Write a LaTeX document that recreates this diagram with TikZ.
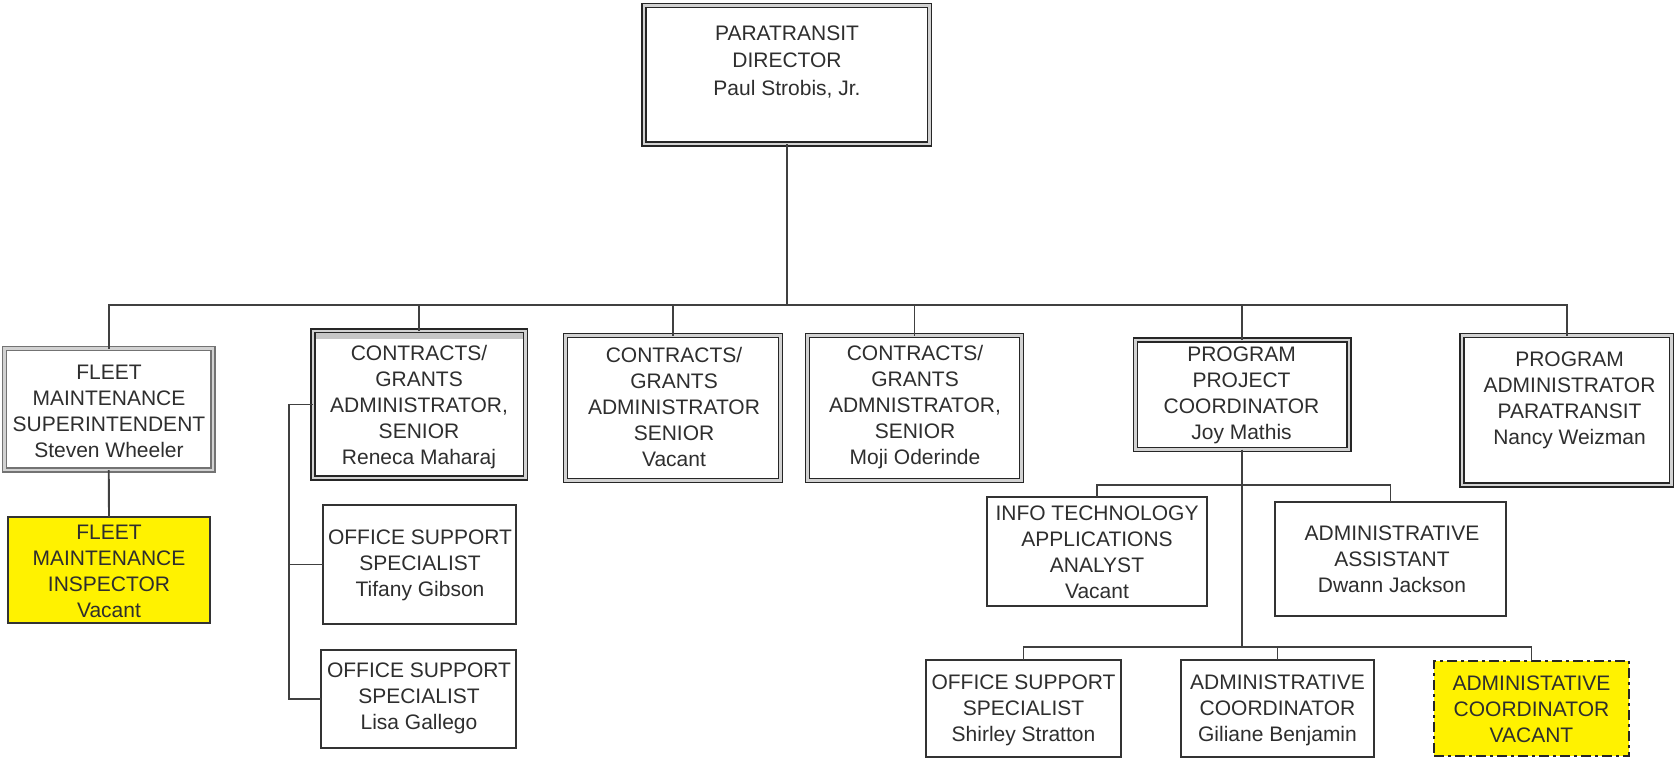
\documentclass[tikz,border=0pt]{standalone}
\usepackage{fontspec}
\setmainfont{Liberation Sans}
\usetikzlibrary{fit}
\begin{document}
\begin{tikzpicture}[x=1pt,y=-1pt,
  frame/.style={inner sep=0pt, outer sep=0pt},
  dbl/.style={frame, fill=white, draw=black!85, line width=1.4pt,
              double=gray!35, double distance=2.6pt},
  dblsoft/.style={dbl, draw=black!55},
  single/.style={frame, fill=white, draw=black!80, line width=1.9pt},
  yel/.style={frame, fill=yellow, draw=black!80, line width=1.9pt},
  yeldash/.style={frame, fill=yellow, draw=black!85, line width=2.4pt,
                  dash pattern=on 10pt off 4pt on 3pt off 4pt},
  lbl/.style={inner sep=0pt, align=center, text=black!82,
              font=\fontsize{21}{26}\selectfont},
  wire/.style={draw=black!75, line width=1.9pt}
]
\useasboundingbox (0,0) rectangle (1676,758);

% ---- boxes (frames) ----
\node[dbl, fit={(644,5.5) (929.5,144)}] (dir) {};
\node[dblsoft, fit={(4.5,348.5) (213,470)}] (fs) {};
\node[yel, fit={(8,517) (210,623)}] (fi) {};
\node[dbl, fit={(313,331) (525.5,478)}] (cr) {};
\fill[gray!45] (315.5,333) rectangle (523,338.5); % heavier top rule of the senior box
\node[dbl, fit={(565.5,335.5) (780.5,480.5)}] (cv) {};
\node[dbl, fit={(807.5,335.5) (1021.5,480.5)}] (cm) {};
\node[dbl, fit={(1135.5,340) (1349,449.5)}] (pp) {};
\node[dbl, fit={(1462,335.5) (1671.5,485)}] (pa) {};
\node[single, fit={(323,505) (516,624)}] (tif) {};
\node[single, fit={(321,650) (516,748)}] (lisa) {};
\node[single, fit={(987,497) (1207,606)}] (it) {};
\node[single, fit={(1275,502) (1506,616)}] (aa) {};
\node[single, fit={(926,660) (1121,757)}] (ss) {};
\node[single, fit={(1181,660) (1374,757)}] (ac) {};
\node[yeldash, fit={(1434,661) (1629,756)}] (yv) {};

% ---- labels ----
\node[lbl, font=\fontsize{21}{27.5}\selectfont] (dirT) at (787,62) {PARATRANSIT\\DIRECTOR\\Paul Strobis, Jr.};
\node[lbl] (fsT) at (109,411) {FLEET\\MAINTENANCE\\SUPERINTENDENT\\Steven Wheeler};
\node[lbl] (fiT) at (109,571) {FLEET\\MAINTENANCE\\INSPECTOR\\Vacant};
\node[lbl] (crT) at (419,407) {CONTRACTS/\\GRANTS\\ADMINISTRATOR,\\SENIOR\\Reneca Maharaj};
\node[lbl] (cvT) at (674,407) {CONTRACTS/\\GRANTS\\ADMINISTRATOR\\SENIOR\\Vacant};
\node[lbl] (cmT) at (915,407) {CONTRACTS/\\GRANTS\\ADMNISTRATOR,\\SENIOR\\Moji Oderinde};
\node[lbl] (ppT) at (1241.5,395) {PROGRAM\\PROJECT\\COORDINATOR\\Joy Mathis};
\node[lbl] (paT) at (1569.5,400) {PROGRAM\\ADMINISTRATOR\\PARATRANSIT\\Nancy Weizman};
\node[lbl] (tifT) at (420,565) {OFFICE SUPPORT\\SPECIALIST\\Tifany Gibson};
\node[lbl] (lisaT) at (419,698) {OFFICE SUPPORT\\SPECIALIST\\Lisa Gallego};
\node[lbl] (itT) at (1097,552) {INFO TECHNOLOGY\\APPLICATIONS\\ANALYST\\Vacant};
\node[lbl] (aaT) at (1392,559) {ADMINISTRATIVE\\ASSISTANT\\Dwann Jackson};
\node[lbl] (ssT) at (1023.5,710) {OFFICE SUPPORT\\SPECIALIST\\Shirley Stratton};
\node[lbl] (acT) at (1277.5,710) {ADMINISTRATIVE\\COORDINATOR\\Giliane Benjamin};
\node[lbl] (yvT) at (1531.5,709) {ADMINISTATIVE\\COORDINATOR\\VACANT};

% ---- bus levels ----
\coordinate (bus) at (0,305);
\coordinate (brk) at (289,0);
\coordinate (sub1) at (0,485);
\coordinate (sub2) at (0,647);

% ---- connectors ----
\draw[wire] (dir.south) -- (dir.south |- bus);
\draw[wire] (fs.north) -- (fs.north |- bus) -- (pa.north |- bus) -- (pa.north);
\foreach \n in {cr,cv,cm,pp}
  \draw[wire] (\n.north) -- (\n.north |- bus);
\draw[wire] (fs.south) -- (fi.north);
\draw[wire] (cr.west) -- (cr.west -| brk) |- (lisa.west);
\draw[wire] (tif.west) -- (tif.west -| brk);
\draw[wire] (pp.south) -- (pp.south |- sub2);
\draw[wire] (it.north) -- (it.north |- sub1) -- (aa.north |- sub1) -- (aa.north);
\draw[wire] (ss.north) -- (ss.north |- sub2) -- (yv.north |- sub2) -- (yv.north);
\draw[wire] (ac.north) -- (ac.north |- sub2);
\end{tikzpicture}
\end{document}
